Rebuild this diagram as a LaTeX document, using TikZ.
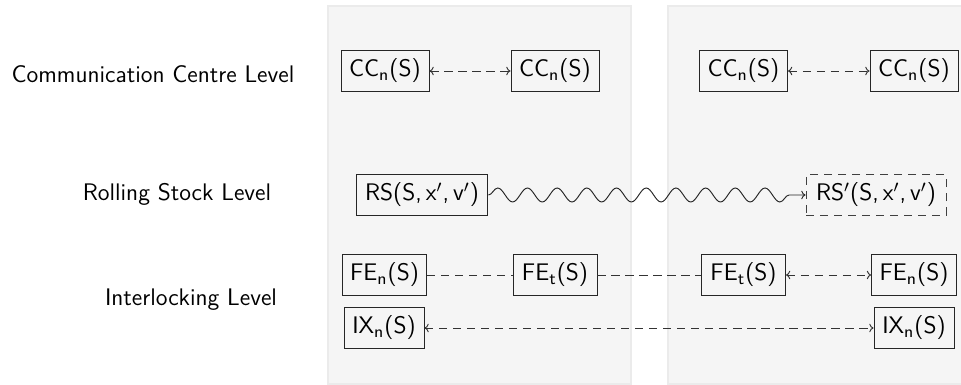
\documentclass[tikz,border=0pt]{standalone}
\usetikzlibrary{decorations.pathmorphing,arrows.meta}
\begin{document}
\begin{tikzpicture}[x=0.4714pt,y=-0.4714pt,
  fnt/.style={font=\fontsize{11.3}{13.5}\sffamily\selectfont},
  panel/.style={fill=black!4,draw=black!8,line width=0.6pt},
  box/.style={fnt,draw=black!85,minimum height=18.9pt,inner sep=1.5pt,line width=0.45pt},
  ghost/.style={box,dash pattern=on 3.8pt off 2.8pt,draw=black!75},
  lvl/.style={fnt},
  link/.style={draw=black!80,dash pattern=on 3.8pt off 2.8pt,line width=0.45pt},
  both/.style={link,{To[length=2pt,width=4pt]}-{To[length=2pt,width=4pt]}},
  wave/.style={draw=black!85,line width=0.45pt,-{To[length=2pt,width=4pt]},
    decorate,decoration={snake,amplitude=3.3pt,segment length=14pt,post length=3pt}}]
\useasboundingbox (0,0) rectangle (961,385);
\path[panel] (328,6) rectangle (631,384);
\path[panel] (668,6) rectangle (961.5,384);

\node[lvl] (l1) at (153,74) {Communication Centre Level};
\node[lvl] (l2) at (177,194) {Rolling Stock Level};
\node[lvl] (l3) at (191,300) {Interlocking Level};

\node[box,minimum width=41.5pt] (cc1) at (385,71) {CC\textsubscript{n}(S)};
\node[box,minimum width=41.5pt] (cc2) at (555,71) {CC\textsubscript{n}(S)};
\node[box,minimum width=41.5pt] (cc3) at (743.5,71) {CC\textsubscript{n}(S)};
\node[box,minimum width=41.5pt] (cc4) at (914,71) {CC\textsubscript{n}(S)};

\node[box,minimum width=62.2pt] (rs1) at (422,195) {RS(S,\,x$'$,\,v$'$)};
\node[ghost,minimum width=66pt] (rs2) at (876,195) {RS$'$(S,\,x$'$,\,v$'$)};

\node[box,minimum width=40pt] (fe1) at (384.5,275) {FE\textsubscript{n}(S)};
\node[box,minimum width=39.6pt] (ft1) at (555,275) {FE\textsubscript{t}(S)};
\node[box,minimum width=39.6pt] (ft2) at (743.5,275) {FE\textsubscript{t}(S)};
\node[box,minimum width=40pt] (fe2) at (914,275) {FE\textsubscript{n}(S)};

\node[box,minimum width=37.7pt] (ix1) at (384,328) {IX\textsubscript{n}(S)};
\node[box,minimum width=37.7pt] (ix2) at (914,328) {IX\textsubscript{n}(S)};

\draw[both] (cc1) -- (cc2);
\draw[both] (cc3) -- (cc4);
\draw[wave] (rs1) -- (rs2);
\draw[link] (fe1) -- (ft1);
\draw[link] (ft1) -- (ft2);
\draw[both] (ft2) -- (fe2);
\draw[both] (ix1) -- (ix2);
\end{tikzpicture}
\end{document}
